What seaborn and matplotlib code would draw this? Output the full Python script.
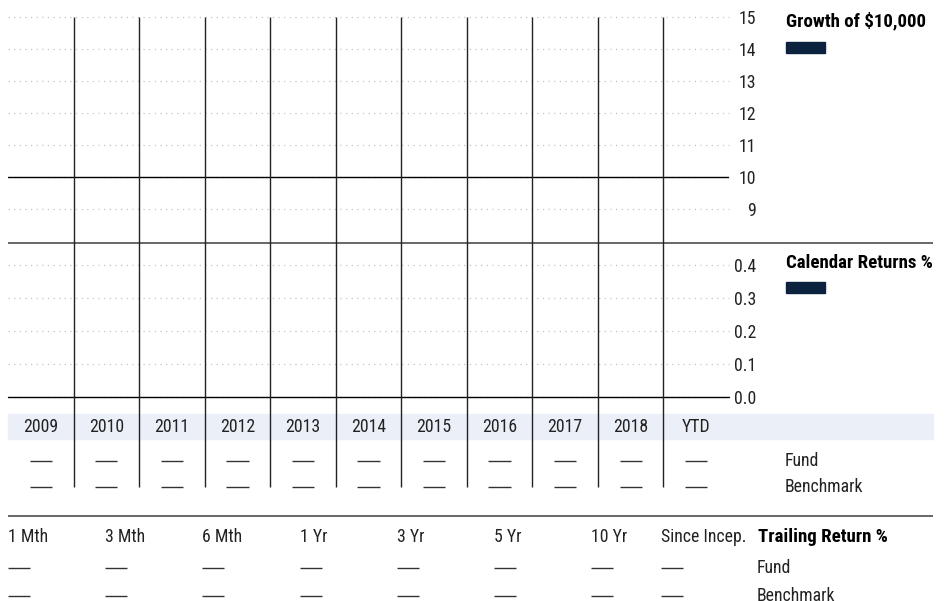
import numpy as np
import pandas as pd
import matplotlib
matplotlib.use("Agg")
import matplotlib.pyplot as plt
from matplotlib import font_manager
from matplotlib.patches import Rectangle
import seaborn as sns

# Data (the fact sheet has no values yet, every cell shows a dash)
growth_dates = []
growth_values = []
growth_ticks = [9, 10, 11, 12, 13, 14, 15]

years = ["2009", "2010", "2011", "2012", "2013", "2014", "2015", "2016", "2017", "2018", "YTD"]
calendar_fund = [None, None, None, None, None, None, None, None, None, None, None]
calendar_bench = [None, None, None, None, None, None, None, None, None, None, None]
calendar_ticks = [0.0, 0.1, 0.2, 0.3, 0.4]

periods = ["1 Mth", "3 Mth", "6 Mth", "1 Yr", "3 Yr", "5 Yr", "10 Yr", "Since Incep."]
trailing_fund = [None, None, None, None, None, None, None, None]
trailing_bench = [None, None, None, None, None, None, None, None]

NAVY = "#0c2340"
TXT = "#222222"
FS = 12.8
FS_B = 13.6

sns.set_theme(style="white")

# pick a condensed family if one is installed
available = set(f.name for f in font_manager.fontManager.ttflist)
wanted = ["Roboto Condensed", "Archivo Narrow", "PT Sans Narrow", "Fira Sans Condensed",
          "IBM Plex Sans Condensed", "Barlow Condensed", "Liberation Sans Narrow",
          "Encode Sans Condensed", "Asap Condensed", "Roboto"]
family = next((f for f in wanted if f in available), "DejaVu Sans")
plt.rcParams["font.family"] = [family, "DejaVu Sans"]

W, H = 949, 601
fig = plt.figure(figsize=(W / 100, H / 100), dpi=100)


def box(x0, y0, x1, y1):
    return [x0 / W, 1 - y1 / H, (x1 - x0) / W, (y1 - y0) / H]


# background axes in pixel units for the table parts
bg = fig.add_axes([0, 0, 1, 1])
bg.set_xlim(0, W)
bg.set_ylim(H, 0)
bg.axis("off")


def style_panel(ax, ticks, fmt, ylim):
    ax.set_xlim(0, len(years))
    ax.set_ylim(*ylim)
    ax.set_xticks([])
    ax.set_yticks(ticks)
    ax.set_yticklabels([fmt(t) for t in ticks])
    ax.yaxis.tick_right()
    ax.tick_params(axis="y", length=0, pad=19.5, labelsize=FS, colors=TXT)
    for lab in ax.get_yticklabels():
        lab.set_horizontalalignment("right")
    for s in ax.spines.values():
        s.set_visible(False)
    ax.set_xlabel("")
    ax.set_ylabel("")
    ax.set_facecolor("none")
    for t in ticks:
        ax.axhline(t, color="#c4c4c4", lw=0.9, ls=(0, (1, 3.5)), zorder=0, clip_on=False)


# Growth of $10,000
ax_g = fig.add_axes(box(8, 17, 729, 243))
sns.lineplot(x=growth_dates, y=growth_values, color=NAVY, ax=ax_g)
style_panel(ax_g, growth_ticks, lambda t: f"{t:d}", (15 - 226 / 32, 15))
ax_g.axhline(10, color="black", lw=1.0, zorder=2)

# Calendar returns
ax_c = fig.add_axes(box(8, 243, 729, 397))
style_panel(ax_c, calendar_ticks, lambda t: f"{t:.1f}", (0, 154 / 330))
ax_c.axhline(0, color="black", lw=1.0, zorder=2, clip_on=False)

# column grid and year table
ax_t = fig.add_axes(box(8, 17, 729, 601))
ax_t.set_xlim(0, len(years))
ax_t.set_ylim(601, 17)
ax_t.axis("off")
ax_t.vlines(np.arange(1, len(years)), 17, 487, color="#222222", lw=1.0)

bg.add_patch(Rectangle((8, 414), 925, 25, color="#ebeff8", zorder=0))
bg.hlines([243, 516], 8, 933, color="#666666", lw=1.4)


def cell(ax, x, y, v, ha="center", w=0.34):
    if v is None:
        x0 = x - w / 2 if ha == "center" else x
        ax.hlines(y, x0, x0 + w, color="#333333", lw=1.0)
    else:
        ax.text(x, y, f"{v:.2f}", ha=ha, va="center", fontsize=FS, color=TXT)


for i, yr in enumerate(years):
    ax_t.text(i + 0.5, 427, yr, ha="center", va="center", fontsize=FS, color=TXT)
    cell(ax_t, i + 0.5, 461, calendar_fund[i])
    cell(ax_t, i + 0.5, 487, calendar_bench[i])

# legends / titles on the right
bg.text(786, 21, "Growth of $10,000", ha="left", va="center", fontsize=FS_B, fontweight="bold", color="black")
bg.add_patch(Rectangle((786, 42), 39, 11, color=NAVY))
bg.text(786, 263, "Calendar Returns %", ha="left", va="center", fontsize=FS_B, fontweight="bold", color="black")
bg.add_patch(Rectangle((786, 282), 39, 11, color=NAVY))
bg.text(785, 461, "Fund", ha="left", va="center", fontsize=FS, color=TXT)
bg.text(785, 487, "Benchmark", ha="left", va="center", fontsize=FS, color=TXT)

# trailing returns
period_x = [8, 105, 202, 300, 397, 494, 591, 661]
for px, p, f, b in zip(period_x, periods, trailing_fund, trailing_bench):
    bg.text(px, 537, p, ha="left", va="center", fontsize=FS, color=TXT)
    cell(bg, px, 568, f, ha="left", w=22)
    cell(bg, px, 596, b, ha="left", w=22)
bg.text(758, 537, "Trailing Return %", ha="left", va="center", fontsize=FS_B, fontweight="bold", color="black")
bg.text(757, 568, "Fund", ha="left", va="center", fontsize=FS, color=TXT)
bg.text(757, 596, "Benchmark", ha="left", va="center", fontsize=FS, color=TXT)

fig.savefig("out.png", dpi=100)
